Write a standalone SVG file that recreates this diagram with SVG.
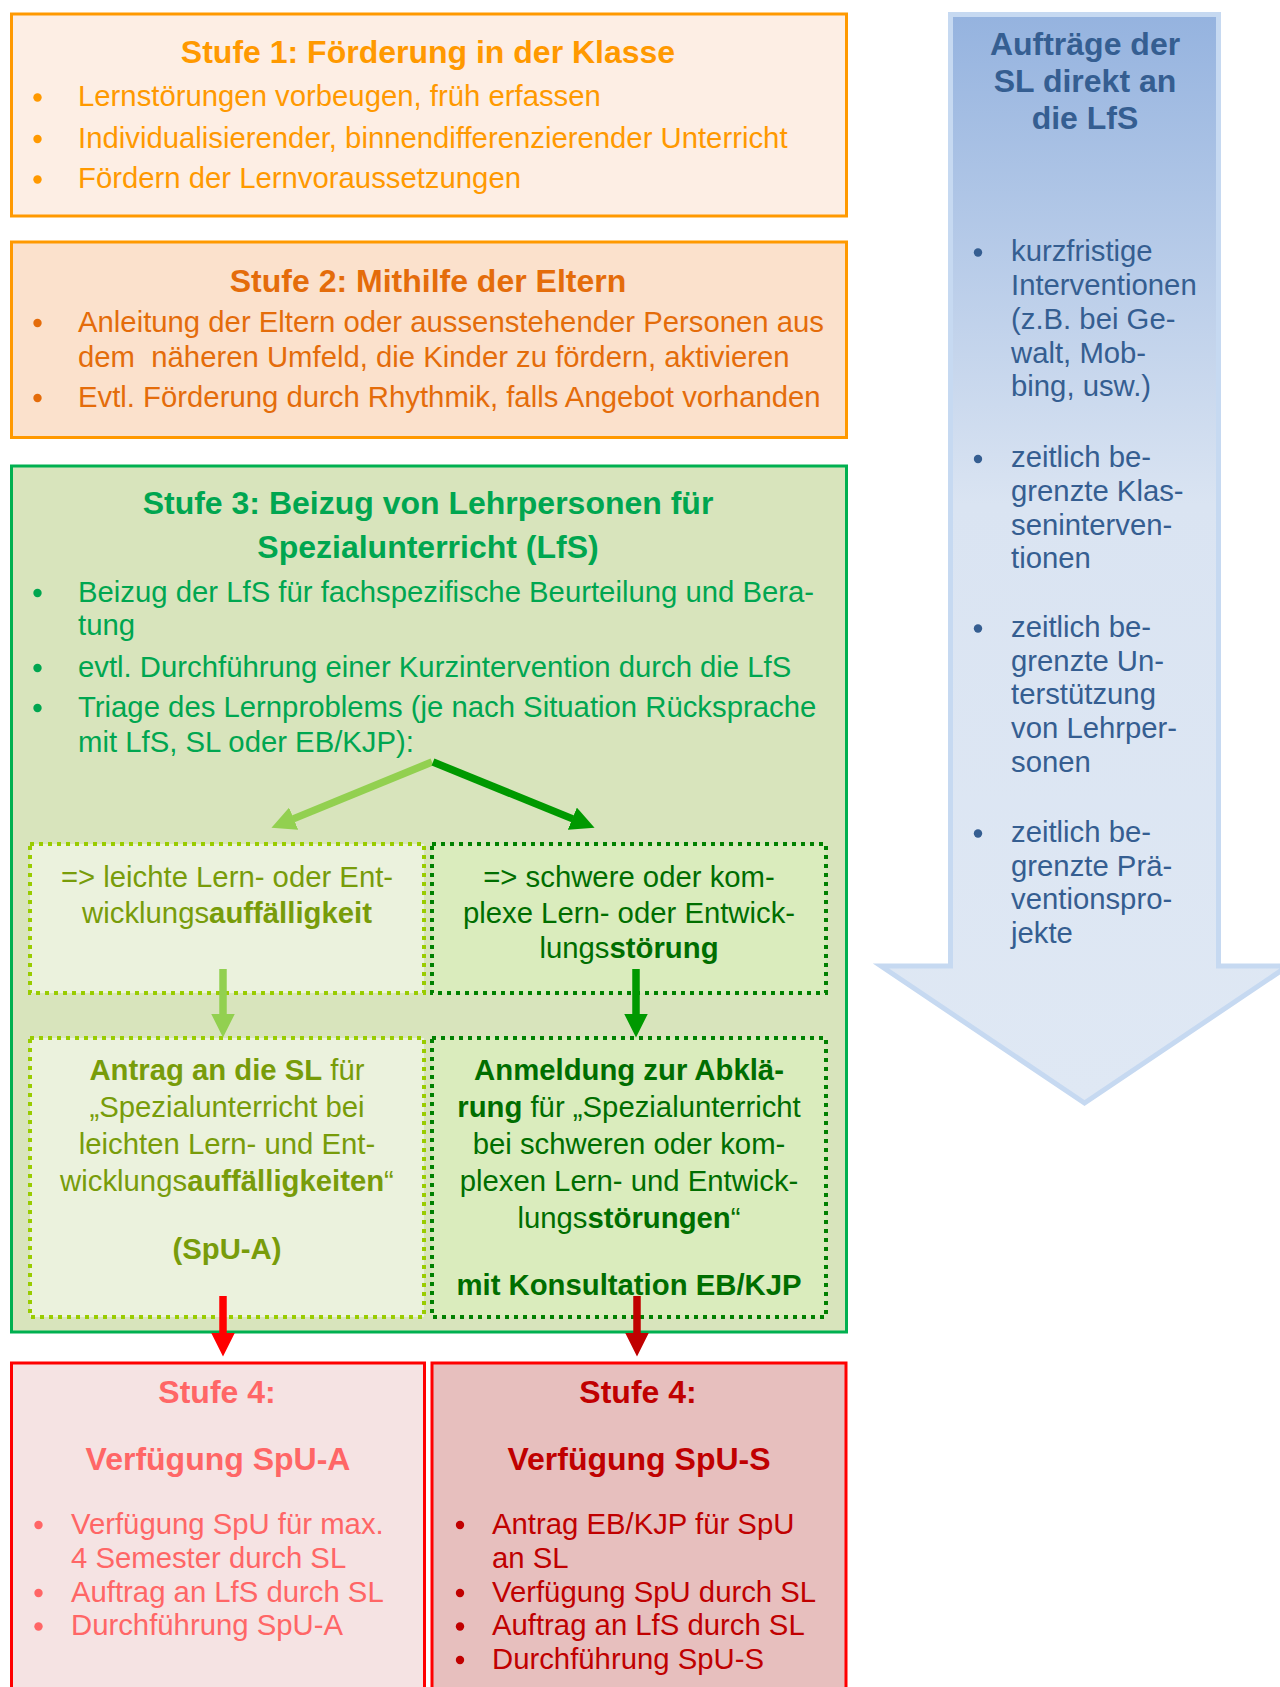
<svg xmlns="http://www.w3.org/2000/svg" width="1280" height="1687" viewBox="0 0 1280 1687">
<defs>
<style>
text { font-family: "Liberation Sans", Arial, sans-serif; font-size: 29.3px; }
.t { font-size: 32px; font-weight: bold; text-anchor: middle; }
.c { text-anchor: middle; }
.bo { font-weight: bold; }
.box { stroke-width: 3; }
.dot { stroke-width: 4; stroke-dasharray: 4 5; }
.arr { fill: none; stroke-width: 7.5; stroke-linecap: butt; }
</style>
<linearGradient id="blueGrad" x1="0" y1="0" x2="0" y2="1">
<stop offset="0" stop-color="#95B3DF"/>
<stop offset="0.45" stop-color="#DAE4F2"/>
<stop offset="1" stop-color="#DFE8F4"/>
</linearGradient>
<marker id="mLG" markerUnits="userSpaceOnUse" markerWidth="24" markerHeight="24" viewBox="0 0 24 24" refX="0.5" refY="12" orient="auto"><path d="M0,0 L24,12 L0,24 z" fill="#92D050"/></marker>
<marker id="mDG" markerUnits="userSpaceOnUse" markerWidth="24" markerHeight="24" viewBox="0 0 24 24" refX="0.5" refY="12" orient="auto"><path d="M0,0 L24,12 L0,24 z" fill="#009900"/></marker>
<marker id="mR" markerUnits="userSpaceOnUse" markerWidth="24" markerHeight="24" viewBox="0 0 24 24" refX="0.5" refY="12" orient="auto"><path d="M0,0 L24,12 L0,24 z" fill="#FF0000"/></marker>
<marker id="mDR" markerUnits="userSpaceOnUse" markerWidth="24" markerHeight="24" viewBox="0 0 24 24" refX="0.5" refY="12" orient="auto"><path d="M0,0 L24,12 L0,24 z" fill="#C00000"/></marker>
</defs>
<rect x="0" y="0" width="1280" height="1687" fill="#FFFFFF"/>

<g id="auftraege-sl">
<polygon points="950.5,14.5 1218.5,14.5 1218.5,966 1288,966 1084.5,1103 881,966 950.5,966" fill="url(#blueGrad)" stroke="#C6D9F1" stroke-width="5"/>
<g fill="#355E91">
<text class="t" x="1085" y="55">Aufträge der</text>
<text class="t" x="1085" y="92">SL direkt an</text>
<text class="t" x="1085" y="129">die LfS</text>
<circle cx="978" cy="252.5" r="4.2"/>
<text x="1011" y="261">kurzfristige</text>
<text x="1011" y="295">Interventionen</text>
<text x="1011" y="329">(z.B. bei Ge-</text>
<text x="1011" y="362.5">walt, Mob-</text>
<text x="1011" y="396">bing, usw.)</text>
<circle cx="978" cy="459" r="4.2"/>
<text x="1011" y="467.3">zeitlich be-</text>
<text x="1011" y="501">grenzte Klas-</text>
<text x="1011" y="534.7">seninterven-</text>
<text x="1011" y="568.4">tionen</text>
<circle cx="978" cy="628.5" r="4.2"/>
<text x="1011" y="637">zeitlich be-</text>
<text x="1011" y="670.7">grenzte Un-</text>
<text x="1011" y="704.4">terstützung</text>
<text x="1011" y="738">von Lehrper-</text>
<text x="1011" y="771.8">sonen</text>
<circle cx="978" cy="833.5" r="4.2"/>
<text x="1011" y="842">zeitlich be-</text>
<text x="1011" y="875.7">grenzte Prä-</text>
<text x="1011" y="909.4">ventionspro-</text>
<text x="1011" y="943.1">jekte</text>
</g>
</g>

<g id="stufe1">
<rect class="box" x="11.5" y="14" width="835" height="202" fill="#FDEEE4" stroke="#FF9900"/>
<g fill="#FF9900">
<text class="t" x="428" y="62.5">Stufe 1: Förderung in der Klasse</text>
<circle cx="37.5" cy="97.5" r="4.2"/>
<text x="78" y="106">Lernstörungen vorbeugen, früh erfassen</text>
<circle cx="37.5" cy="139" r="4.2"/>
<text x="78" y="147.5">Individualisierender, binnendifferenzierender Unterricht</text>
<circle cx="37.5" cy="179.5" r="4.2"/>
<text x="78" y="188">Fördern der Lernvoraussetzungen</text>
</g>
</g>

<g id="stufe2">
<rect class="box" x="11.5" y="242" width="835" height="195.5" fill="#FBE1CC" stroke="#FF9900"/>
<g fill="#E46C0A">
<text class="t" x="428" y="291.5">Stufe 2: Mithilfe der Eltern</text>
<circle cx="37.5" cy="323" r="4.2"/>
<text x="78" y="331.5">Anleitung der Eltern oder aussenstehender Personen aus</text>
<text x="78" y="366.5">dem&#160; näheren Umfeld, die Kinder zu fördern, aktivieren</text>
<circle cx="37.5" cy="398" r="4.2"/>
<text x="78" y="406.5">Evtl. Förderung durch Rhythmik, falls Angebot vorhanden</text>
</g>
</g>

<g id="stufe3">
<rect class="box" x="11.5" y="466" width="835" height="866" fill="#D8E4BC" stroke="#00B050"/>
<g fill="#00A650">
<text class="t" x="428" y="514">Stufe 3: Beizug von Lehrpersonen für</text>
<text class="t" x="428" y="558">Spezialunterricht (LfS)</text>
<circle cx="37.5" cy="593" r="4.2"/>
<text x="78" y="601.5">Beizug der LfS für fachspezifische Beurteilung und Bera-</text>
<text x="78" y="635">tung</text>
<circle cx="37.5" cy="668" r="4.2"/>
<text x="78" y="676.5">evtl. Durchführung einer Kurzintervention durch die LfS</text>
<circle cx="37.5" cy="708" r="4.2"/>
<text x="78" y="716.5">Triage des Lernproblems (je nach Situation Rücksprache</text>
<text x="78" y="751.5">mit LfS, SL oder EB/KJP):</text>
</g>
</g>

<g id="leichte-auffaelligkeit">
<rect class="dot" x="30" y="844" width="394" height="149" fill="#EBF2DD" stroke="#99CC00"/>
<g fill="#789C0A">
<text class="c" x="227" y="887">=&gt; leichte Lern- oder Ent-</text>
<text class="c" x="227" y="922.5">wicklungs<tspan class="bo">auffälligkeit</tspan></text>
</g>
</g>

<g id="schwere-stoerung">
<rect class="dot" x="432" y="844" width="394" height="149" fill="#DAECBD" stroke="#008000"/>
<g fill="#006E00">
<text class="c" x="629" y="887">=&gt; schwere oder kom-</text>
<text class="c" x="629" y="922.5">plexe Lern- oder Entwick-</text>
<text class="c" x="629" y="958">lungs<tspan class="bo">störung</tspan></text>
</g>
</g>

<g id="antrag-spu-a">
<rect class="dot" x="30" y="1038" width="394" height="279" fill="#EBF2DD" stroke="#99CC00"/>
<g fill="#789C0A">
<text class="c" x="227" y="1080"><tspan class="bo">Antrag an die SL</tspan> für</text>
<text class="c" x="227" y="1117">„Spezialunterricht bei</text>
<text class="c" x="227" y="1154">leichten Lern- und Ent-</text>
<text class="c" x="227" y="1191">wicklungs<tspan class="bo">auffälligkeiten</tspan>“</text>
<text class="c bo" x="227" y="1259">(SpU-A)</text>
</g>
</g>

<g id="anmeldung-abklaerung">
<rect class="dot" x="432" y="1038" width="394" height="279" fill="#DAECBD" stroke="#008000"/>
<g fill="#006E00">
<text class="c bo" x="629" y="1080">Anmeldung zur Abklä-</text>
<text class="c" x="629" y="1117"><tspan class="bo">rung</tspan> für „Spezialunterricht</text>
<text class="c" x="629" y="1154">bei schweren oder kom-</text>
<text class="c" x="629" y="1191">plexen Lern- und Entwick-</text>
<text class="c" x="629" y="1228">lungs<tspan class="bo">störungen</tspan>“</text>
<text class="c bo" x="629" y="1295">mit Konsultation EB/KJP</text>
</g>
</g>

<g id="stufe4-spu-a">
<rect class="box" x="11.5" y="1363" width="413" height="340" fill="#F5E3E3" stroke="#FF0000"/>
<g fill="#FF6666">
<text class="t" x="217" y="1403">Stufe 4:</text>
<text class="t" x="218" y="1470">Verfügung SpU-A</text>
<circle cx="38.5" cy="1525" r="4.2"/>
<text x="71" y="1533.5">Verfügung SpU für max.</text>
<text x="71" y="1568">4 Semester durch SL</text>
<circle cx="38.5" cy="1593" r="4.2"/>
<text x="71" y="1601.5">Auftrag an LfS durch SL</text>
<circle cx="38.5" cy="1626.5" r="4.2"/>
<text x="71" y="1635">Durchführung SpU-A</text>
</g>
</g>

<g id="stufe4-spu-s">
<rect class="box" x="432" y="1363" width="414" height="340" fill="#E7BFBE" stroke="#FF0000"/>
<g fill="#C00000">
<text class="t" x="638" y="1403">Stufe 4:</text>
<text class="t" x="639" y="1470">Verfügung SpU-S</text>
<circle cx="460" cy="1525" r="4.2"/>
<text x="492" y="1533.5">Antrag EB/KJP für SpU</text>
<text x="492" y="1568">an SL</text>
<circle cx="460" cy="1593" r="4.2"/>
<text x="492" y="1601.5">Verfügung SpU durch SL</text>
<circle cx="460" cy="1626.5" r="4.2"/>
<text x="492" y="1635">Auftrag an LfS durch SL</text>
<circle cx="460" cy="1660" r="4.2"/>
<text x="492" y="1668.5">Durchführung SpU-S</text>
</g>
</g>

<g id="connectors">
<path class="arr" d="M432,762 L293.2,818.9" stroke="#92D050" marker-end="url(#mLG)"/>
<path class="arr" d="M433,762 L572.8,818.9" stroke="#009900" marker-end="url(#mDG)"/>
<path class="arr" d="M223,969 L223,1014" stroke="#92D050" marker-end="url(#mLG)"/>
<path class="arr" d="M636,969 L636,1014" stroke="#009900" marker-end="url(#mDG)"/>
<path class="arr" d="M223,1296 L223,1333" stroke="#FF0000" marker-end="url(#mR)"/>
<path class="arr" d="M637,1296 L637,1333" stroke="#C00000" marker-end="url(#mDR)"/>
</g>
</svg>
